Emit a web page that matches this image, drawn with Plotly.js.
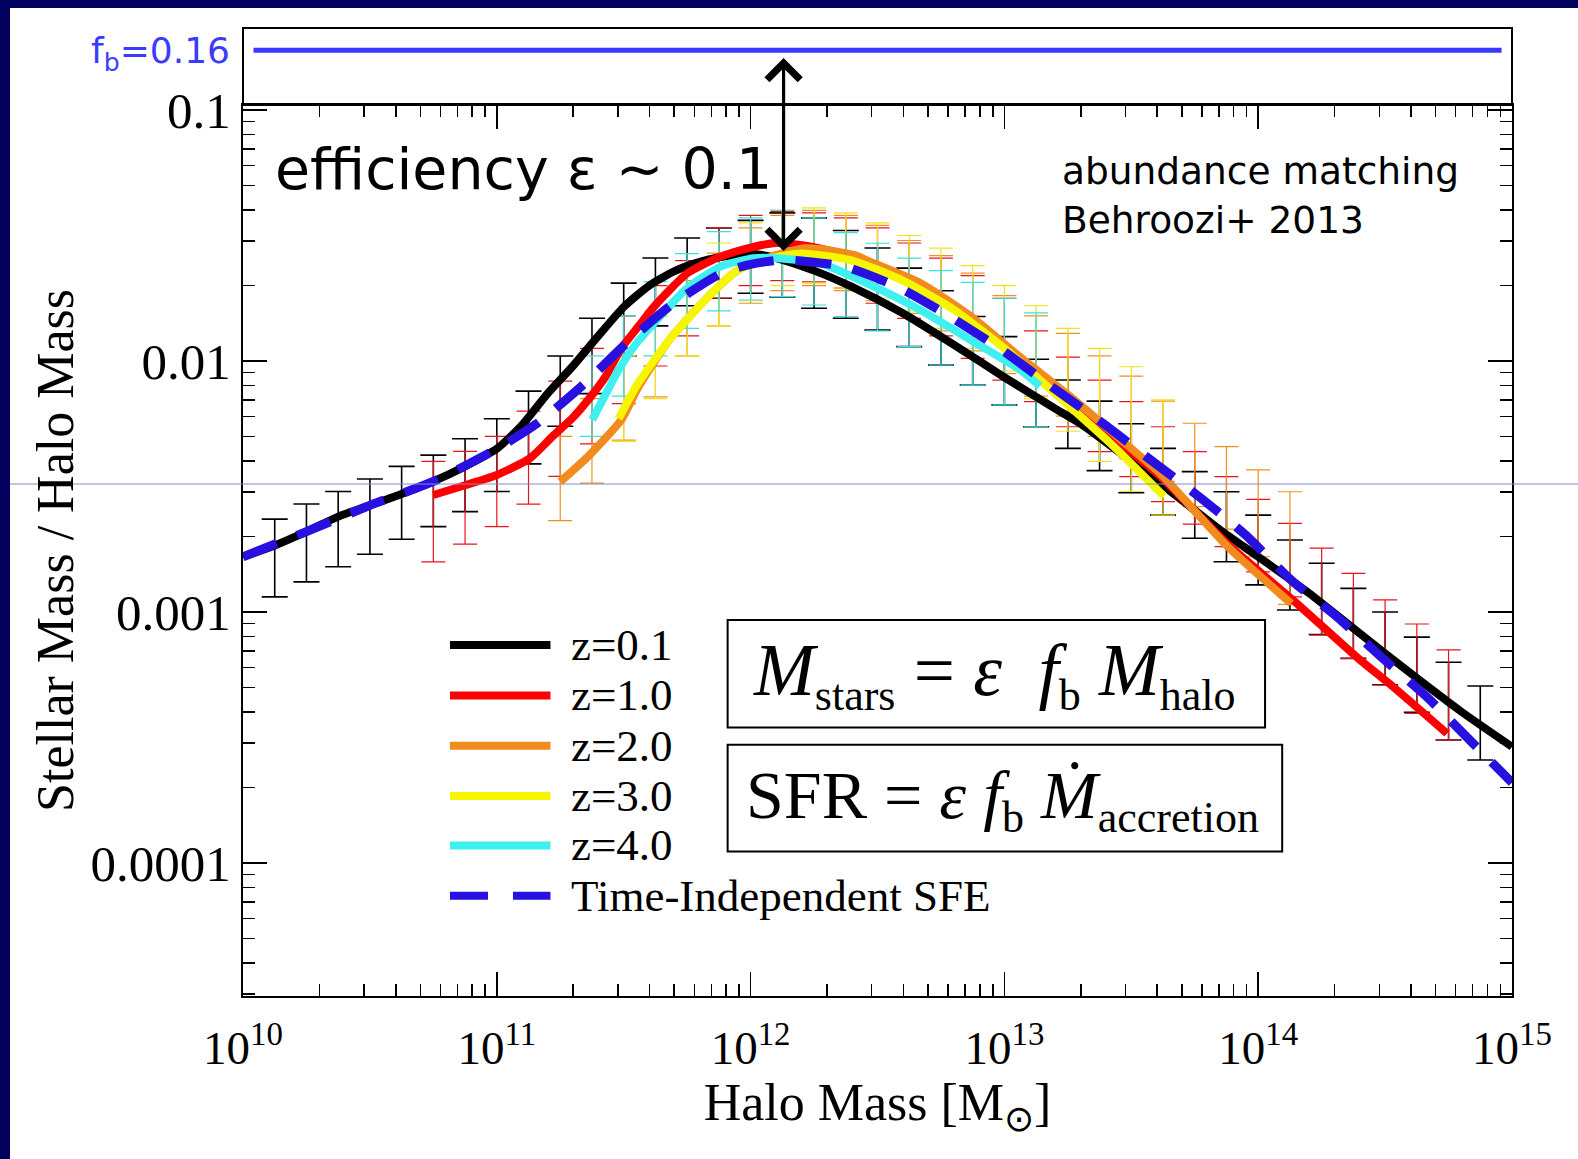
<!DOCTYPE html>
<html>
<head>
<meta charset="utf-8">
<script src="https://cdn.plot.ly/plotly-3.0.1.min.js"></script>
<style>
  html, body { margin: 0; padding: 0; background: #ffffff; }
  #chart { width: 1578px; height: 1159px; }
</style>
</head>
<body>
<div id="chart"></div>
<script>
// ---------------- DATA (masses and ratios as log10 values) ----------------
const seriesNames = ['z=0.1', 'z=1.0', 'z=2.0', 'z=3.0', 'z=4.0', 'Time-Independent SFE'];

// z = 0.1 (black)
const z01_logMhalo = [10.0, 10.125, 10.25, 10.375, 10.5, 10.625, 10.75, 10.875, 11.0, 11.1, 11.2, 11.3, 11.4, 11.5, 11.6, 11.7, 11.8, 11.9, 12.0, 12.1, 12.25, 12.4, 12.6, 12.8, 13.0, 13.2, 13.3, 13.5, 13.7, 13.85, 14.0, 14.2, 14.4, 14.6, 14.8, 15.0];
const z01_logRatio = [-2.78, -2.735, -2.68, -2.62, -2.575, -2.53, -2.48, -2.42, -2.35, -2.255, -2.13, -2.02, -1.90, -1.785, -1.70, -1.642, -1.605, -1.583, -1.573, -1.59, -1.64, -1.705, -1.81, -1.935, -2.065, -2.19, -2.25, -2.40, -2.555, -2.673, -2.78, -2.925, -3.085, -3.244, -3.397, -3.537];

// z = 1.0 (red)
const z10_logMhalo = [10.75, 10.875, 11.0, 11.13, 11.22, 11.3, 11.36, 11.43, 11.49, 11.56, 11.62, 11.75, 11.88, 12.0, 12.1, 12.21, 12.41, 12.67, 12.87, 13.06, 13.26, 13.46, 13.62, 13.88, 14.14, 14.4, 14.53, 14.744];
const z10_logRatio = [-2.534, -2.495, -2.454, -2.388, -2.30, -2.225, -2.155, -2.06, -1.95, -1.86, -1.783, -1.651, -1.585, -1.548, -1.53, -1.54, -1.585, -1.70, -1.83, -1.99, -2.15, -2.33, -2.465, -2.73, -2.955, -3.19, -3.297, -3.484];

// z = 2.0 (orange)
const z20_logMhalo = [11.25, 11.36, 11.49, 11.56, 11.68, 11.82, 11.95, 12.08, 12.21, 12.28, 12.41, 12.47, 12.67, 12.87, 13.06, 13.26, 13.46, 13.62, 13.88, 14.13];
const z20_logRatio = [-2.481, -2.38, -2.235, -2.10, -1.916, -1.757, -1.638, -1.585, -1.551, -1.555, -1.578, -1.604, -1.69, -1.824, -1.983, -2.142, -2.315, -2.455, -2.74, -2.966];

// z = 3.0 (yellow)
const z30_logMhalo = [11.48, 11.55, 11.68, 11.82, 11.95, 12.08, 12.2, 12.4, 12.6, 12.8, 13.0, 13.2, 13.42, 13.63];
const z30_logRatio = [-2.23, -2.10, -1.916, -1.757, -1.638, -1.591, -1.572, -1.60, -1.68, -1.795, -1.95, -2.13, -2.33, -2.54];

// z = 4.0 (cyan)
const z40_logMhalo = [11.376, 11.43, 11.487, 11.55, 11.619, 11.75, 11.881, 12.012, 12.104, 12.275, 12.472, 12.669, 12.866, 13.063, 13.14];
const z40_logRatio = [-2.235, -2.13, -2.023, -1.93, -1.85, -1.71, -1.624, -1.591, -1.591, -1.611, -1.697, -1.797, -1.916, -2.036, -2.10];

// Time-independent SFE (blue dashed)
const sfe_logMhalo = [10.0, 10.25, 10.5, 10.75, 11.0, 11.16, 11.34, 11.51, 11.69, 11.89, 12.0, 12.13, 12.37, 12.59, 12.79, 13.0, 13.19, 13.39, 13.58, 13.77, 13.95, 14.13, 14.31, 14.49, 14.67, 14.84, 15.0];
const sfe_logRatio = [-2.78, -2.68, -2.575, -2.48, -2.35, -2.248, -2.095, -1.93, -1.775, -1.648, -1.615, -1.597, -1.624, -1.71, -1.826, -1.963, -2.105, -2.25, -2.397, -2.543, -2.693, -2.873, -3.019, -3.184, -3.344, -3.517, -3.68];

// Error bars (log10 halo mass, log10 lower end, log10 upper end)
const z01_err_logMhalo = [10.125, 10.25, 10.375, 10.5, 10.625, 10.75, 10.875, 11.0, 11.125, 11.25, 11.375, 11.5, 11.625, 11.75, 11.875, 12.0, 12.125, 12.25, 12.375, 12.5, 12.625, 12.75, 12.875, 13.0, 13.125, 13.25, 13.375, 13.5, 13.625, 13.75, 13.875, 14.0, 14.125, 14.25, 14.375, 14.5, 14.625, 14.75, 14.875];
const z01_err_logLow  = [-2.94, -2.88, -2.82, -2.77, -2.71, -2.66, -2.60, -2.52, -2.41, -2.26, -2.13, -1.98, -1.86, -1.78, -1.75, -1.73, -1.745, -1.79, -1.83, -1.877, -1.943, -2.016, -2.096, -2.175, -2.262, -2.348, -2.437, -2.525, -2.614, -2.706, -2.80, -2.892, -2.992, -3.09, -3.185, -3.29, -3.40, -3.51, -3.59];
const z01_err_logHigh = [-2.63, -2.57, -2.52, -2.47, -2.42, -2.375, -2.31, -2.23, -2.12, -1.98, -1.83, -1.69, -1.59, -1.51, -1.47, -1.44, -1.41, -1.43, -1.48, -1.55, -1.63, -1.72, -1.823, -1.903, -1.993, -2.076, -2.16, -2.25, -2.348, -2.441, -2.521, -2.614, -2.713, -2.806, -2.906, -3.0, -3.10, -3.20, -3.295];

const z10_err_logMhalo = [10.75, 10.875, 11.0, 11.125, 11.25, 11.375, 11.5, 11.625, 11.75, 11.875, 12.0, 12.125, 12.25, 12.375, 12.5, 12.625, 12.75, 12.875, 13.0, 13.125, 13.25, 13.375, 13.5, 13.625, 13.75, 13.875, 14.0, 14.125, 14.25, 14.375, 14.5, 14.625, 14.75];
const z10_err_logLow  = [-2.80, -2.73, -2.66, -2.57, -2.46, -2.33, -2.17, -2.02, -1.90, -1.75, -1.70, -1.68, -1.685, -1.71, -1.77, -1.83, -1.90, -1.99, -2.076, -2.162, -2.262, -2.361, -2.461, -2.56, -2.65, -2.74, -2.84, -2.94, -3.092, -3.185, -3.291, -3.404, -3.51];
const z10_err_logHigh = [-2.40, -2.36, -2.30, -2.20, -2.08, -1.95, -1.82, -1.70, -1.60, -1.47, -1.42, -1.405, -1.41, -1.43, -1.47, -1.53, -1.59, -1.66, -1.75, -1.88, -1.985, -2.076, -2.162, -2.262, -2.361, -2.461, -2.551, -2.647, -2.746, -2.846, -2.952, -3.048, -3.151];

const z20_err_logMhalo = [11.25, 11.375, 11.5, 11.625, 11.75, 11.875, 12.0, 12.125, 12.25, 12.375, 12.5, 12.625, 12.75, 12.875, 13.0, 13.125, 13.25, 13.375, 13.5, 13.625, 13.75, 13.875, 14.0, 14.125];
const z20_err_logLow  = [-2.636, -2.487, -2.315, -2.143, -1.98, -1.86, -1.77, -1.72, -1.70, -1.72, -1.76, -1.81, -1.88, -1.96, -2.05, -2.14, -2.22, -2.30, -2.39, -2.48, -2.58, -2.67, -2.78, -2.97];
const z20_err_logHigh = [-2.30, -2.15, -1.98, -1.82, -1.68, -1.57, -1.47, -1.42, -1.40, -1.42, -1.46, -1.52, -1.58, -1.65, -1.74, -1.82, -1.89, -1.98, -2.06, -2.16, -2.248, -2.341, -2.434, -2.521];

const z30_err_logMhalo = [11.5, 11.625, 11.75, 11.875, 12.0, 12.125, 12.25, 12.375, 12.5, 12.625, 12.75, 12.875, 13.0, 13.125, 13.25, 13.375, 13.5, 13.625];
const z30_err_logLow  = [-2.32, -2.15, -1.98, -1.86, -1.76, -1.70, -1.69, -1.71, -1.75, -1.80, -1.87, -1.95, -2.04, -2.15, -2.28, -2.40, -2.52, -2.614];
const z30_err_logHigh = [-1.98, -1.80, -1.64, -1.53, -1.45, -1.40, -1.39, -1.41, -1.45, -1.50, -1.55, -1.62, -1.70, -1.78, -1.87, -1.95, -2.023, -2.155];

const z40_err_logMhalo = [11.375, 11.5, 11.625, 11.75, 11.875, 12.0, 12.125, 12.25, 12.375, 12.5, 12.625, 12.75, 12.875, 13.0, 13.125];
const z40_err_logLow  = [-2.30, -2.14, -1.98, -1.87, -1.80, -1.757, -1.744, -1.777, -1.823, -1.88, -1.943, -2.016, -2.096, -2.175, -2.262];
const z40_err_logHigh = [-1.98, -1.82, -1.684, -1.572, -1.485, -1.43, -1.40, -1.43, -1.489, -1.531, -1.59, -1.64, -1.687, -1.75, -1.808];

// Baryon fraction line
const fbValue = 0.16;
const fbMassRange = [1.1e10, 9.1e14];

// Ticks
const xTickVals = [1e10, 1e11, 1e12, 1e13, 1e14, 1e15];
const xTickText = ['10<sup>10</sup>', '10<sup>11</sup>', '10<sup>12</sup>', '10<sup>13</sup>', '10<sup>14</sup>', '10<sup>15</sup>'];
const yTickVals = [1e-4, 1e-3, 1e-2, 1e-1];
const yTickText = ['0.0001', '0.001', '0.01', '0.1'];

// ---------------- STYLE ----------------
const SERIF = '"Liberation Serif", "Times New Roman", Times, serif';
const COMIC = '"Comic Sans MS", "DejaVu Sans", sans-serif';
const curveColors = ['#000000', '#ff0000', '#f28a1e', '#f6f600', '#3ff0f0', '#2810e0'];
const errColors   = ['#000000', '#e8141e', '#f0901c', '#f2e21a', '#36e2e2'];

const pow10 = arr => arr.map(v => Math.pow(10, v));

function errTrace(logM, lo, hi, color, thick, capw) {
  const center = lo.map((l, i) => Math.pow(10, (l + hi[i]) / 2));
  return {
    type: 'scatter', mode: 'markers', x: pow10(logM), y: center,
    marker: { size: 1, color: 'rgba(0,0,0,0)' },
    error_y: {
      type: 'data', symmetric: false,
      array: hi.map((h, i) => Math.pow(10, h) - center[i]),
      arrayminus: lo.map((l, i) => center[i] - Math.pow(10, l)),
      color: color, thickness: thick, width: capw
    },
    hoverinfo: 'skip', showlegend: false
  };
}
function curve(logM, logR, name, color, width, dash) {
  return {
    type: 'scatter', mode: 'lines', name: name,
    x: pow10(logM), y: pow10(logR),
    line: { color: color, width: width, dash: dash || 'solid', shape: 'spline', smoothing: 0.6 },
    showlegend: false
  };
}

const traces = [
  errTrace(z01_err_logMhalo, z01_err_logLow, z01_err_logHigh, errColors[0], 1.6, 13),
  errTrace(z10_err_logMhalo, z10_err_logLow, z10_err_logHigh, errColors[1], 1.2, 12),
  errTrace(z20_err_logMhalo, z20_err_logLow, z20_err_logHigh, errColors[2], 1.2, 12),
  errTrace(z30_err_logMhalo, z30_err_logLow, z30_err_logHigh, errColors[3], 1.2, 12),
  errTrace(z40_err_logMhalo, z40_err_logLow, z40_err_logHigh, errColors[4], 1.2, 12),
  curve(z01_logMhalo, z01_logRatio, seriesNames[0], curveColors[0], 8),
  curve(z10_logMhalo, z10_logRatio, seriesNames[1], curveColors[1], 8),
  curve(z20_logMhalo, z20_logRatio, seriesNames[2], curveColors[2], 8),
  curve(z30_logMhalo, z30_logRatio, seriesNames[3], curveColors[3], 8),
  curve(z40_logMhalo, z40_logRatio, seriesNames[4], curveColors[4], 8),
  curve(sfe_logMhalo, sfe_logRatio, seriesNames[5], curveColors[5], 9, '36px,22px'),
  {
    type: 'scatter', mode: 'lines', name: 'f_b', x: fbMassRange, y: [fbValue, fbValue],
    xaxis: 'x', yaxis: 'y2', line: { color: '#3a3aff', width: 5 }, showlegend: false, hoverinfo: 'skip'
  }
];

// ---------------- LAYOUT ----------------
// plot area: 243..1512 px horizontally, 28..996 px vertically (main axis 105..996, top box 28..105)
const legendRowsY = [0.3626, 0.3105, 0.2586, 0.2066, 0.1556, 0.1036];
const shapes = [
  // slide background (navy) on the top and left edges
  { type: 'rect', xref: 'paper', yref: 'paper', x0: -0.2, x1: 1.06, y0: 1.0207, y1: 1.04, fillcolor: '#02025e', line: { width: 0 }, layer: 'above' },
  { type: 'rect', xref: 'paper', yref: 'paper', x0: -0.2, x1: -0.1836, y0: -0.18, y1: 1.04, fillcolor: '#02025e', line: { width: 0 }, layer: 'above' },
  // faint slide guide line
  { type: 'line', xref: 'paper', yref: 'paper', x0: -0.1836, x1: 1.06, y0: 0.5289, y1: 0.5289, line: { color: '#8a8ac8', width: 1 }, layer: 'above' },
  // top box (baryon fraction)
  { type: 'rect', xref: 'paper', yref: 'paper', x0: 0, x1: 1, y0: 0.9205, y1: 1.0, line: { color: '#000', width: 2 }, fillcolor: 'rgba(0,0,0,0)', layer: 'above' },
  // equation boxes
  { type: 'rect', xref: 'paper', yref: 'paper', x0: 0.3819, x1: 0.8054, y0: 0.2773, y1: 0.3884, line: { color: '#000', width: 2 }, fillcolor: '#ffffff', layer: 'above' },
  { type: 'rect', xref: 'paper', yref: 'paper', x0: 0.3819, x1: 0.8189, y0: 0.1494, y1: 0.2596, line: { color: '#000', width: 2 }, fillcolor: '#ffffff', layer: 'above' }
];
// legend sample lines
seriesNames.forEach((n, i) => {
  shapes.push({
    type: 'line', xref: 'paper', yref: 'paper', x0: 0.1631, x1: 0.2423, y0: legendRowsY[i], y1: legendRowsY[i],
    line: { color: curveColors[i], width: 8, dash: i === 5 ? '38px,25px' : 'solid' }, layer: 'above'
  });
});

const SUB = s => '<sub><span style="font-size:44px">' + s + '</span></sub>';
const annotations = [
  { xref: 'paper', yref: 'paper', x: -0.009, y: 0.9735, xanchor: 'right', yanchor: 'middle', showarrow: false,
    text: 'f<sub>b</sub>=0.16', font: { family: COMIC, size: 36, color: '#3b3bff' } },
  { xref: 'paper', yref: 'paper', x: 0.0235, y: 0.8543, xanchor: 'left', yanchor: 'middle', showarrow: false,
    text: 'efficiency ε ~ 0.1', font: { family: COMIC, size: 57, color: '#000' } },
  { xref: 'paper', yref: 'paper', x: 0.6440, y: 0.8273, xanchor: 'left', yanchor: 'middle', align: 'left', showarrow: false,
    text: 'abundance matching<br>Behroozi+ 2013', font: { family: COMIC, size: 37.5, color: '#000' } },
  // double-headed arrow between f_b and the peak efficiency
  { xref: 'x', yref: 'y', x: 12.13, y: -1.562, axref: 'x', ayref: 'y', ax: 12.13, ay: -0.787, text: '',
    showarrow: true, arrowside: 'end+start', arrowhead: 4, startarrowhead: 4, arrowsize: 2.0, startarrowsize: 2.0,
    arrowwidth: 3.2, arrowcolor: '#000' },
  { xref: 'paper', yref: 'paper', x: 0.5925, y: 0.3318, xanchor: 'center', yanchor: 'middle', showarrow: false,
    text: '<i>M</i>' + SUB('stars') + ' = <i>ε</i>  <i>f</i>' + SUB('b') + ' <i>M</i>' + SUB('halo'),
    font: { family: SERIF, size: 73, color: '#000' } },
  { xref: 'paper', yref: 'paper', x: 0.5985, y: 0.2035, xanchor: 'center', yanchor: 'middle', showarrow: false,
    text: 'SFR = <i>ε</i> <i>f</i>' + SUB('b') + ' <i>Ṁ</i>' + SUB('accretion'),
    font: { family: SERIF, size: 68, color: '#000' } }
];
seriesNames.forEach((n, i) => {
  annotations.push({ xref: 'paper', yref: 'paper', x: 0.2566, y: legendRowsY[i], xanchor: 'left', yanchor: 'middle',
    showarrow: false, text: n, font: { family: SERIF, size: 45, color: '#000' } });
});

const axisCommon = {
  showline: true, linewidth: 2, linecolor: '#000', mirror: 'ticks', showgrid: false, zeroline: false,
  ticks: 'inside', ticklen: 24, tickwidth: 1.5, tickcolor: '#000',
  minor: { ticks: 'inside', ticklen: 12, tickwidth: 1.5, tickcolor: '#000', dtick: 'D1', showgrid: false },
  automargin: false
};

const layout = {
  width: 1578, height: 1159,
  margin: { l: 243, r: 66, t: 28, b: 163, pad: 0 },
  paper_bgcolor: '#ffffff', plot_bgcolor: 'rgba(0,0,0,0)',
  showlegend: false,
  font: { family: SERIF, color: '#000' },
  xaxis: Object.assign({}, axisCommon, {
    type: 'log', range: [10, 15], anchor: 'y',
    tickmode: 'array', tickvals: xTickVals, ticktext: xTickText,
    tickfont: { family: SERIF, size: 47, color: '#000' }, ticklabelstandoff: 10,
    title: { text: 'Halo Mass [M<sub>⊙</sub>]', font: { family: SERIF, size: 52, color: '#000' }, standoff: 6 }
  }),
  yaxis: Object.assign({}, axisCommon, {
    type: 'log', range: [-4.53, -0.98], domain: [0, 0.9205], anchor: 'x',
    tickmode: 'array', tickvals: yTickVals, ticktext: yTickText,
    tickfont: { family: SERIF, size: 51, color: '#000' }, ticklabelstandoff: 0,
    title: { text: 'Stellar Mass / Halo Mass', font: { family: SERIF, size: 52, color: '#000' }, standoff: 0 }
  }),
  yaxis2: { domain: [0.9205, 1], range: [0.1, 0.1845], visible: false, anchor: 'x', fixedrange: true },
  shapes: shapes,
  annotations: annotations
};

Plotly.newPlot('chart', traces, layout, { displayModeBar: false, staticPlot: true });
</script>
</body>
</html>
